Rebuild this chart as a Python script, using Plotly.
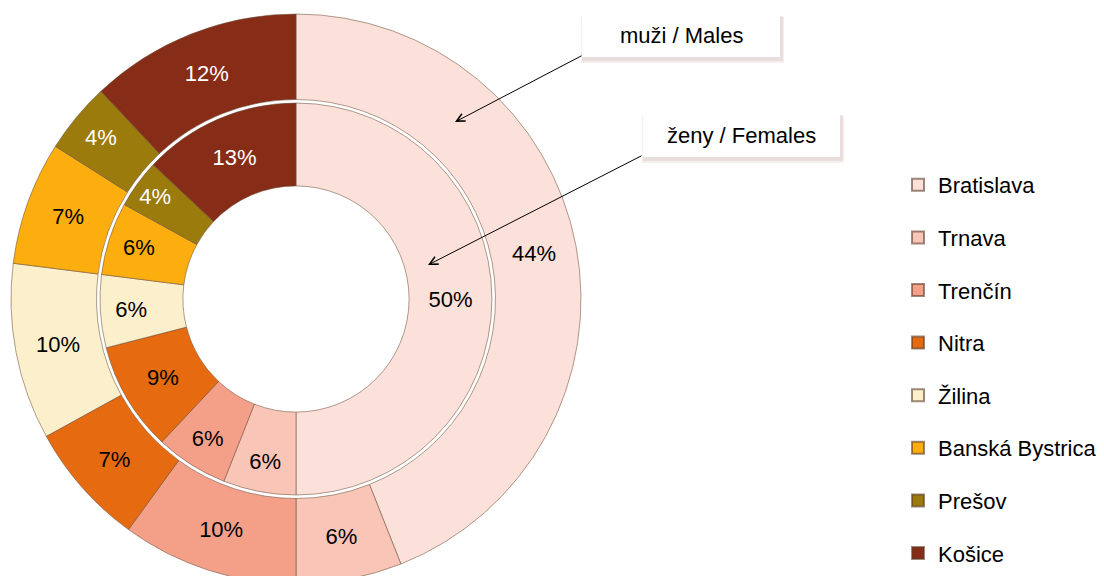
import plotly.graph_objects as go

regions = ["Bratislava", "Trnava", "Trenčín", "Nitra", "Žilina",
           "Banská Bystrica", "Prešov", "Košice"]
males = [44, 6, 10, 7, 10, 7, 4, 12]
females = [50, 6, 6, 9, 6, 6, 4, 13]
colors = ["#FBE1D9", "#F8C5B6", "#F4A089", "#E56A10", "#FCEFCB",
          "#FCAE0E", "#9A7B0C", "#862C17"]
text_colors = ["black"] * 6 + ["white"] * 2
ring_titles = ["muži / Males", "ženy / Females"]

W, H = 1104, 576
OFF = 8          # page body margin
MT = 6
PH = H - MT
FONT = "Liberation Sans, Arial"


def px(x):
    return (x - OFF) / W


def py(y):
    return (H - (y - OFF)) / PH


cx, cy = 296, 299
r_out = 285
r_in = 196

fig = go.Figure()

fig.add_trace(go.Pie(
    labels=regions, values=males, sort=False, direction="clockwise", rotation=0,
    hole=0.70, domain=dict(x=[px(cx - r_out), px(cx + r_out)], y=[0, 1]),
    marker=dict(colors=colors, line=dict(color="rgba(110,80,60,0.55)", width=1)),
    text=[f"{v}%" for v in males], textinfo="text", textposition="inside",
    insidetextorientation="horizontal",
    textfont=dict(family=FONT, size=22, color=text_colors),
    showlegend=False, hoverinfo="label+text", name=ring_titles[0],
))
fig.add_trace(go.Pie(
    labels=regions, values=females, sort=False, direction="clockwise", rotation=0,
    hole=0.577, domain=dict(x=[px(cx - r_in), px(cx + r_in)],
                            y=[py(cy + r_in), py(cy - r_in)]),
    marker=dict(colors=colors, line=dict(color="rgba(110,80,60,0.55)", width=1)),
    text=[f"{v}%" for v in females], textinfo="text", textposition="inside",
    insidetextorientation="horizontal",
    textfont=dict(family=FONT, size=22, color=text_colors),
    showlegend=False, hoverinfo="label+text", name=ring_titles[1],
))

# legend entries
for reg, col in zip(regions, colors):
    fig.add_trace(go.Scatter(
        x=[None], y=[None], mode="markers", name=reg, legendgroup=reg,
        marker=dict(symbol="square", size=13, color=col,
                    line=dict(color="rgba(90,60,40,0.6)", width=1)),
        showlegend=True,
    ))

fig.update_xaxes(visible=False)
fig.update_yaxes(visible=False)

# label boxes with soft shadows
boxes = [
    dict(text=ring_titles[0], x0=582, y0=14, x1=780, y1=57, tip=(455, 122), start=(583, 55)),
    dict(text=ring_titles[1], x0=643, y0=113, x1=840, y1=157, tip=(428, 265), start=(643, 155)),
]
shapes = []
annotations = []
for b in boxes:
    for (dx0, dx1, dy0, dy1, a) in [(-1, 4, 3, 6, 0.10), (0, 3, 2, 4, 0.14)]:
        shapes.append(dict(type="rect", xref="paper", yref="paper",
                           x0=px(b["x0"] + dx0), x1=px(b["x1"] + dx1),
                           y0=py(b["y1"] + dy1), y1=py(b["y0"] + dy0),
                           fillcolor=f"rgba(160,110,100,{a})", line=dict(width=0), layer="above"))
    shapes.append(dict(type="rect", xref="paper", yref="paper",
                       x0=px(b["x0"]), x1=px(b["x1"]),
                       y0=py(b["y1"]), y1=py(b["y0"]),
                       fillcolor="white", line=dict(width=0), layer="above"))
    annotations.append(dict(
        xref="paper", yref="paper", x=px((b["x0"] + b["x1"]) / 2), y=py((b["y0"] + b["y1"]) / 2),
        xanchor="center", yanchor="middle",
        text=b["text"], showarrow=False,
        font=dict(family=FONT, size=22, color="black")))
    annotations.append(dict(
        xref="paper", yref="paper", x=px(b["tip"][0]), y=py(b["tip"][1]),
        axref="pixel", ayref="pixel",
        ax=b["start"][0] - b["tip"][0], ay=b["start"][1] - b["tip"][1],
        text="", showarrow=True, arrowhead=5, arrowsize=1.6, arrowwidth=1,
        arrowcolor="black", standoff=0))

fig.update_layout(
    width=W, height=H,
    margin=dict(l=0, r=0, t=MT, b=0),
    paper_bgcolor="white", plot_bgcolor="white",
    uniformtext=dict(minsize=22, mode="show"),
    legend=dict(x=px(898), y=py(164), xanchor="left", yanchor="top",
                font=dict(family=FONT, size=22, color="black"),
                tracegroupgap=21, itemsizing="constant", bgcolor="rgba(0,0,0,0)"),
    shapes=shapes, annotations=annotations,
    font=dict(family=FONT),
)

fig.write_html("out.html")
